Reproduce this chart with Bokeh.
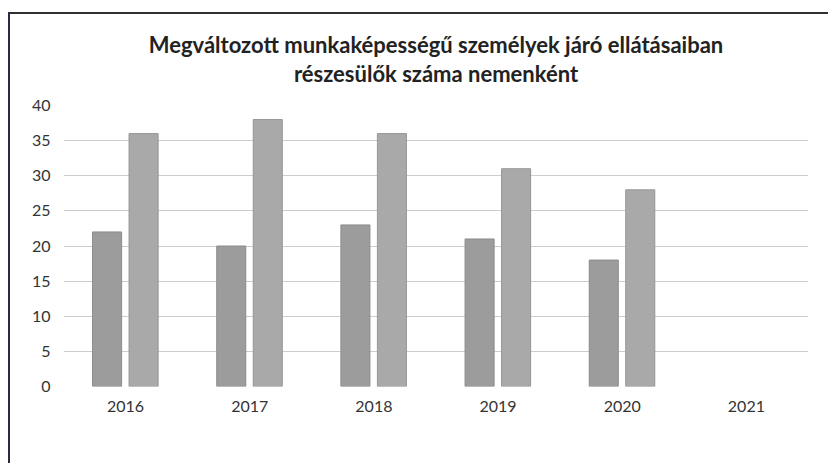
import numpy as np
from bokeh.plotting import figure
from bokeh.models import Title, Legend, ColumnDataSource, FactorRange
from bokeh.transform import dodge
from bokeh.embed import file_html
from bokeh.resources import INLINE

years = ["2016", "2017", "2018", "2019", "2020", "2021"]
ferfiak = [22, 20, 23, 21, 18, None]
nok = [36, 38, 36, 31, 28, None]
y_ticks = [0, 5, 10, 15, 20, 25, 30, 35, 40]

src = ColumnDataSource(dict(
    year=years,
    fer=np.array([np.nan if v is None else v for v in ferfiak], dtype=float),
    nok=np.array([np.nan if v is None else v for v in nok], dtype=float),
))

FONT = "Lato"
p = figure(x_range=FactorRange(*years), y_range=(0, 40),
           frame_width=745, frame_height=281,
           output_backend="svg", toolbar_location=None,
           min_border_left=53, min_border_right=20, min_border_top=91, min_border_bottom=60)
p.styles = {"margin-left": "8px", "margin-top": "12px",
            "border-left": "2px solid #2a2a48", "border-top": "2px solid #303030"}

r1 = p.vbar(x=dodge("year", -0.149, range=p.x_range), top="fer", width=0.234, source=src,
            fill_color="#9c9c9c", line_color="#8c8c8c", line_width=1)
r2 = p.vbar(x=dodge("year", 0.145, range=p.x_range), top="nok", width=0.234, source=src,
            fill_color="#a9a9a9", line_color="#969696", line_width=1)

p.add_layout(Title(text=" ", text_font_size="15px", standoff=0), "above")
p.add_layout(Title(text="részesülők száma nemenként", align="center", text_font=FONT,
                   text_font_size="22px", text_font_style="bold", text_color="#222222",
                   standoff=0), "above")
p.add_layout(Title(text="Megváltozott munkaképességű személyek járó ellátásaiban", align="center",
                   text_font=FONT, text_font_size="22px", text_font_style="bold",
                   text_color="#222222", standoff=0), "above")

p.outline_line_color = None
p.xgrid.grid_line_color = None
p.ygrid.grid_line_color = "#cdcdcd"
p.ygrid.grid_line_width = 1
p.yaxis.ticker = y_ticks
for ax in (p.xaxis[0], p.yaxis[0]):
    ax.axis_line_color = None
    ax.major_tick_line_color = None
    ax.minor_tick_line_color = None
    ax.major_tick_out = 0
    ax.major_tick_in = 0
    ax.minor_tick_out = 0
    ax.axis_label_standoff = 0
    ax.axis_label_text_font_size = "1px"
    ax.major_label_text_font = FONT
    ax.major_label_text_font_size = "16px"
    ax.major_label_text_color = "#333333"
p.xaxis.major_label_standoff = 14
p.yaxis.major_label_standoff = 13

legend = Legend(items=[("Férfiak", [r1]), ("Nők", [r2])], orientation="horizontal",
                location=(276, 0), label_text_font=FONT, label_text_font_size="15px",
                label_text_color="#333333", glyph_width=10, glyph_height=10,
                spacing=26, border_line_color=None, background_fill_alpha=0,
                margin=8, padding=4)
p.add_layout(legend, "below")

open("out.html", "w").write(file_html(p, INLINE))
